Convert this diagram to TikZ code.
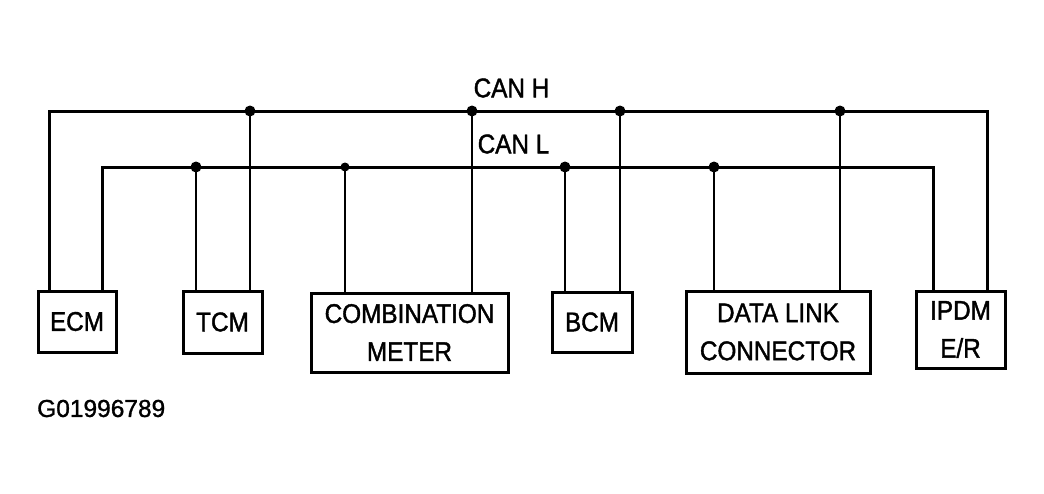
\documentclass[tikz,border=0pt]{standalone}
\usepackage{fontspec}
\setmainfont[FakeBold=1.2]{Liberation Sans}
\newfontfamily\labfont[FakeStretch=0.9,FakeBold=1.5]{Liberation Sans}
\begin{document}
\begin{tikzpicture}[x=1pt,y=-1pt,
  unit/.style={draw,line width=3pt,rectangle,inner sep=0pt,align=center,
    font=\labfont\fontsize{27}{38}\selectfont},
  bus/.style={line width=3pt},
  drop/.style={line width=2.6pt},
  jdot/.style={fill,circle,inner sep=0pt,minimum size=11pt},
  buslabel/.style={font=\labfont\fontsize{27}{30}\selectfont,inner sep=0pt}]
\useasboundingbox (0,0) rectangle (1044,493);
% boxes
\node[unit,minimum width=78pt,minimum height=61pt] (ecm) at (77,321.5) {ECM};
\node[unit,minimum width=79pt,minimum height=62pt] (tcm) at (222.5,322) {TCM};
\node[unit,minimum width=197pt,minimum height=79pt] (comb) at (409.5,332.5) {COMBINATION\\METER};
\node[unit,minimum width=80pt,minimum height=60pt] (bcm) at (592,322) {BCM};
\node[unit,minimum width=184pt,minimum height=82pt] (dlc) at (778,332) {DATA LINK\\CONNECTOR};
\node[unit,minimum width=89pt,minimum height=77pt] (ipdm) at (960.5,329.5) {IPDM\\E/R};
% bus corners and junctions
\coordinate (hL) at (49,111);
\coordinate (hR) at (987,111);
\coordinate (lL) at (102,167);
\coordinate (lR) at (933,167);
\coordinate (h1) at (250,111);
\coordinate (h2) at (472,111);
\coordinate (h3) at (620,111);
\coordinate (h4) at (840,111);
\coordinate (l1) at (196,167);
\coordinate (l2) at (345,167);
\coordinate (l3) at (565,167);
\coordinate (l4) at (714,167);
% buses
\draw[bus] (hL |- ecm.north) -- (hL) -- (hR) -- (hR |- ipdm.north);
\draw[bus] (lL |- ecm.north) -- (lL) -- (lR) -- (lR |- ipdm.north);
% drops
\draw[drop] (h1) -- (h1 |- tcm.north);
\draw[drop] (h2) -- (h2 |- comb.north);
\draw[drop] (h3) -- (h3 |- bcm.north);
\draw[drop] (h4) -- (h4 |- dlc.north);
\draw[drop] (l1) -- (l1 |- tcm.north);
\draw[drop] (l2) -- (l2 |- comb.north);
\draw[drop] (l3) -- (l3 |- bcm.north);
\draw[drop] (l4) -- (l4 |- dlc.north);
% junction dots
\foreach \j in {h1,h2,h3,h4,l1,l3,l4} \node[jdot] at (\j) {};
\node[jdot,minimum size=9pt] at (l2) {};
% labels
\node[buslabel] (canh) at (511.5,88) {CAN H};
\node[buslabel] (canl) at (513.5,144) {CAN L};
\node[font=\fontsize{24.5}{28}\selectfont,inner sep=0pt,anchor=west] (fig) at (37,408.5) {G01996789};
\end{tikzpicture}
\end{document}
